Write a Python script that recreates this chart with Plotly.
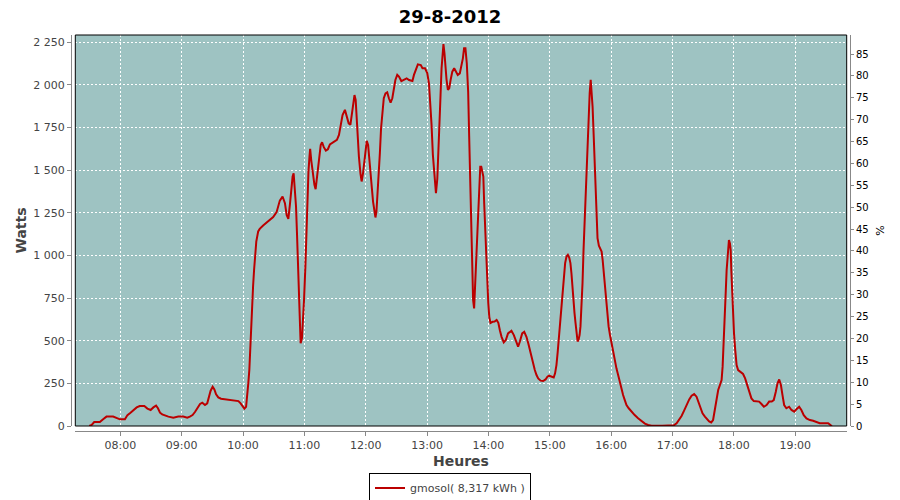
import plotly.graph_objects as go

date = "2012-08-29"
title = "29-8-2012"
series_name = "gmosol( 8,317 kWh )"

heures = [
    "07:29:40", "07:32:00", "07:34:30", "07:40:00", "07:43:30", "07:46:30", "07:53:00", "07:56:30",
    "07:59:40", "08:04:30", "08:07:00", "08:10:00", "08:12:40", "08:16:00", "08:19:00", "08:23:30",
    "08:26:30", "08:29:40", "08:32:20", "08:35:00", "08:36:50", "08:38:50", "08:41:00", "08:43:40",
    "08:47:00", "08:51:50", "08:56:40", "09:01:30", "09:05:30", "09:08:00", "09:10:40", "09:13:00",
    "09:15:40", "09:18:00", "09:20:10", "09:22:50", "09:25:00", "09:26:40", "09:28:20", "09:30:20",
    "09:32:00", "09:33:40", "09:35:50", "09:38:30", "09:42:30", "09:47:20", "09:52:10", "09:55:30",
    "09:57:40", "09:59:40", "10:01:20", "10:03:00", "10:04:10", "10:05:10", "10:06:10", "10:06:50",
    "10:07:30", "10:08:50", "10:09:50", "10:10:50", "10:11:50", "10:13:00", "10:14:50", "10:16:20",
    "10:19:40", "10:24:40", "10:29:30", "10:32:50", "10:36:00", "10:38:40", "10:41:00", "10:42:40",
    "10:44:20", "10:46:00", "10:47:10", "10:48:30", "10:49:30", "10:50:30", "10:51:50", "10:52:50",
    "10:53:50", "10:54:30", "10:55:20", "10:56:20", "10:57:40", "10:58:40", "10:59:40", "11:01:00",
    "11:02:00", "11:03:00", "11:04:00", "11:05:00", "11:05:40", "11:06:40", "11:08:00", "11:09:50",
    "11:11:00", "11:12:30", "11:13:50", "11:14:50", "11:16:00", "11:17:20", "11:19:00", "11:21:00",
    "11:23:00", "11:25:00", "11:28:30", "11:31:50", "11:33:50", "11:35:20", "11:37:20", "11:39:40",
    "11:41:40", "11:43:20", "11:45:00", "11:46:10", "11:47:30", "11:49:00", "11:50:10", "11:51:00",
    "11:52:00", "11:53:20", "11:54:50", "11:56:00", "11:57:20", "11:58:40", "12:00:00", "12:01:00",
    "12:02:20", "12:03:40", "12:04:40", "12:06:00", "12:07:10", "12:08:30", "12:09:30", "12:10:30",
    "12:11:30", "12:12:30", "12:13:50", "12:15:00", "12:16:20", "12:17:40", "12:19:20", "12:21:00",
    "12:22:40", "12:24:20", "12:26:00", "12:27:30", "12:29:00", "12:30:50", "12:32:30", "12:34:50",
    "12:37:20", "12:40:00", "12:42:20", "12:45:40", "12:47:10", "12:49:10", "12:51:00", "12:53:50",
    "12:55:30", "12:58:00", "13:00:10", "13:01:50", "13:03:10", "13:04:20", "13:05:40", "13:07:00",
    "13:08:40", "13:10:00", "13:11:10", "13:12:10", "13:13:10", "13:14:10", "13:15:00", "13:16:00",
    "13:17:00", "13:18:00", "13:19:00", "13:20:20", "13:21:40", "13:23:00", "13:24:40", "13:26:30",
    "13:28:00", "13:30:00", "13:32:00", "13:33:40", "13:35:00", "13:36:10", "13:37:30", "13:38:50",
    "13:40:10", "13:41:10", "13:42:10", "13:43:00", "13:44:00", "13:45:00", "13:46:00", "13:47:00",
    "13:48:00", "13:49:00", "13:50:00", "13:51:00", "13:52:00", "13:53:00", "13:54:00", "13:55:00",
    "13:55:50", "13:56:50", "13:57:50", "13:58:50", "13:59:50", "14:00:50", "14:02:00", "14:04:00",
    "14:06:00", "14:08:00", "14:09:40", "14:11:10", "14:12:50", "14:15:00", "14:17:00", "14:19:10",
    "14:22:30", "14:24:50", "14:27:20", "14:29:00", "14:30:40", "14:33:00", "14:35:00", "14:37:10",
    "14:39:00", "14:40:30", "14:42:00", "14:43:40", "14:45:20", "14:47:00", "14:48:40", "14:51:00",
    "14:53:30", "14:55:50", "14:57:40", "14:59:20", "15:01:40", "15:03:50", "15:05:10", "15:06:30",
    "15:07:40", "15:08:50", "15:10:05", "15:11:25", "15:12:40", "15:13:40", "15:15:00", "15:16:20",
    "15:17:40", "15:19:00", "15:20:10", "15:21:10", "15:22:10", "15:23:10", "15:24:10", "15:25:10",
    "15:26:10", "15:27:10", "15:28:10", "15:29:10", "15:30:00", "15:31:00", "15:32:00", "15:33:00",
    "15:34:00", "15:35:00", "15:36:00", "15:37:00", "15:38:00", "15:39:00", "15:40:00", "15:40:50",
    "15:41:50", "15:42:50", "15:43:50", "15:44:50", "15:45:50", "15:46:40", "15:48:00", "15:49:20",
    "15:50:40", "15:51:40", "15:52:30", "15:53:30", "15:54:30", "15:55:30", "15:56:30", "15:57:30",
    "15:58:50", "16:00:00", "16:01:20", "16:02:40", "16:03:30", "16:05:10", "16:06:50", "16:08:20",
    "16:10:00", "16:11:40", "16:13:20", "16:15:00", "16:17:10", "16:19:50", "16:23:00", "16:26:20",
    "16:29:40", "16:33:00", "16:36:10", "16:39:30", "16:50:00", "16:57:20", "17:01:20", "17:04:00",
    "17:06:30", "17:08:50", "17:11:20", "17:13:40", "17:16:20", "17:18:40", "17:21:10", "17:23:30",
    "17:25:20", "17:27:20", "17:29:20", "17:31:40", "17:34:00", "17:35:50", "17:37:50", "17:39:40",
    "17:41:20", "17:43:00", "17:44:40", "17:46:20", "17:48:00", "17:49:00", "17:49:50", "17:50:30",
    "17:51:20", "17:51:55", "17:52:55", "17:53:55", "17:55:10", "17:56:10", "17:56:55", "17:57:30",
    "17:58:25", "17:59:25", "18:00:10", "18:01:20", "18:02:40", "18:04:10", "18:06:30", "18:09:00",
    "18:11:00", "18:13:00", "18:15:00", "18:17:10", "18:19:30", "18:22:00", "18:24:40", "18:27:00",
    "18:29:20", "18:32:00", "18:34:30", "18:37:00", "18:39:00", "18:41:00", "18:42:40", "18:44:20",
    "18:46:00", "18:47:30", "18:49:10", "18:51:20", "18:54:00", "18:56:20", "18:59:00", "19:01:10",
    "19:03:50", "19:06:00", "19:08:20", "19:11:00", "19:14:20", "19:17:30", "19:20:50", "19:24:00",
    "19:29:00", "19:32:10", "19:34:50", "19:36:00",
]

watts = [
    0, 6, 23, 23, 41, 55, 55, 45,
    39, 39, 64, 78, 94, 109, 117, 117,
    102, 94, 109, 119, 104, 78, 68, 62,
    55, 49, 55, 55, 49, 55, 64, 82,
    104, 129, 137, 123, 133, 172, 207, 230,
    215, 186, 168, 160, 156, 152, 148, 146,
    133, 113, 102, 113, 172, 250, 328, 430,
    564, 701, 818, 916, 985, 1082, 1141, 1156,
    1176, 1203, 1225, 1254, 1322, 1346, 1307, 1238,
    1215, 1307, 1385, 1463, 1482, 1404, 1287, 1121,
    936, 750, 604, 486, 516, 604, 740, 936,
    1141, 1326, 1492, 1580, 1625, 1561, 1482, 1414,
    1389, 1463, 1531, 1590, 1648, 1664, 1635, 1615,
    1623, 1652, 1664, 1678, 1707, 1756, 1824, 1854,
    1818, 1775, 1766, 1824, 1902, 1941, 1912, 1814,
    1707, 1580, 1482, 1434, 1482, 1561, 1648, 1672,
    1648, 1570, 1502, 1395, 1316, 1258, 1223, 1258,
    1346, 1473, 1600, 1746, 1844, 1922, 1951, 1957,
    1922, 1897, 1922, 1971, 2029, 2059, 2049, 2023,
    2029, 2039, 2029, 2023, 2059, 2092, 2121, 2117,
    2098, 2098, 2070, 2010, 1900, 1770, 1590, 1463,
    1365, 1450, 1600, 1756, 1941, 2098, 2186, 2240,
    2186, 2098, 2033, 1971, 1980, 2029, 2078, 2098,
    2078, 2059, 2068, 2117, 2156, 2215, 2215, 2127,
    1961, 1697, 1404, 1121, 877, 740, 690, 818,
    955, 1131, 1287, 1414, 1521, 1521, 1492, 1463,
    1307, 1150, 985, 838, 721, 640, 604, 611,
    613, 622, 605, 562, 523, 490, 504, 543,
    559, 533, 488, 465, 494, 543, 552, 523,
    484, 445, 396, 357, 328, 299, 279, 266,
    264, 273, 289, 295, 289, 285, 309, 357,
    430, 510, 604, 701, 799, 877, 955, 994,
    1004, 988, 955, 896, 799, 721, 662, 604,
    535, 496, 506, 535, 584, 682, 838, 1033,
    1189, 1307, 1502, 1717, 1863, 1951, 2030, 1971,
    1873, 1717, 1521, 1336, 1189, 1102, 1057, 1043,
    1023, 975, 916, 838, 760, 691, 633, 584,
    535, 496, 447, 408, 387, 338, 299, 260,
    221, 182, 152, 123, 104, 84, 64, 45,
    27, 14, 6, 2, 2, 2, 4, 16,
    35, 59, 90, 123, 156, 178, 187, 172,
    143, 104, 74, 55, 39, 27, 21, 35,
    94, 162, 211, 240, 270, 348, 445, 543,
    640, 767, 914, 1021, 1090, 1070, 1030, 914,
    767, 621, 540, 445, 357, 328, 318, 305,
    279, 240, 201, 162, 146, 145, 143, 129,
    113, 123, 143, 143, 152, 201, 250, 273,
    240, 182, 123, 104, 113, 94, 84, 98,
    113, 94, 64, 45, 35, 31, 23, 16,
    16, 16, 4, 0,
]

x_range = ["2012-08-29 07:16:00", "2012-08-29 19:50:20"]
y_range = [0, 2293]
y2_range = [0, 89.35]

temps = [f"{date} {h}" for h in heures]

# The page body adds an 8px offset, so the figure is sized to fill the rest of the window
OFF = 8
W, H = 900 - OFF, 500 - OFF
L, R, T, B = 71 - OFF, 50, 35 - OFF, 69
pw = W - L - R
ph = H - T - B
xdom = [(75.3 - 71) / pw, (846.7 - 71) / pw]
ydom = [(431 - 426) / ph, 1.0]

FONT = "DejaVu Sans"
GRAY = "#444444"
AXIS = "#888888"

fig = go.Figure()
fig.add_trace(go.Scatter(
    x=temps, y=watts, mode="lines", name=series_name,
    line=dict(color="#BB0000", width=2),
))
fig.add_trace(go.Scatter(
    x=[], y=[], yaxis="y2", mode="lines", showlegend=False, hoverinfo="skip",
))

fig.update_layout(
    width=W, height=H,
    margin=dict(l=L, r=R, t=T, b=B, pad=0, autoexpand=False),
    paper_bgcolor="white",
    plot_bgcolor="#9EC3C2",
    separators=", ",
    font=dict(family=FONT, size=11, color=GRAY),
    title=dict(text="<b>" + title + "</b>", x=(450 - OFF) / W, xref="container", xanchor="center",
               y=1.0, yref="container", yanchor="top", pad=dict(t=2),
               font=dict(family=FONT, size=18, color="black")),
    xaxis=dict(
        type="date", domain=xdom, anchor="free", position=0, automargin=False,
        range=x_range, tick0="2012-08-29 08:00:00", dtick=3600000, tickformat="%H:%M",
        showline=True, linecolor=AXIS, linewidth=1,
        ticks="outside", ticklen=4, tickcolor=AXIS,
        showgrid=True, gridcolor="white", gridwidth=1, griddash="2px,2px",
        zeroline=False,
        tickfont=dict(family=FONT, size=11, color=GRAY),
        title=dict(text="<b>Heures</b>", standoff=4, font=dict(family=FONT, size=14, color=GRAY)),
    ),
    yaxis=dict(
        domain=ydom, anchor="free", position=0, automargin=False,
        range=y_range, dtick=250, tick0=0, separatethousands=True,
        showline=True, linecolor=AXIS, linewidth=1,
        ticks="outside", ticklen=4, tickcolor=AXIS,
        showgrid=True, gridcolor="white", gridwidth=1, griddash="2px,2px",
        zeroline=False,
        tickfont=dict(family=FONT, size=11, color=GRAY),
        title=dict(text="<b>Watts</b>", standoff=2, font=dict(family=FONT, size=14, color=GRAY)),
    ),
    yaxis2=dict(
        overlaying="y", side="right", anchor="free", position=1, automargin=False,
        range=y2_range, dtick=5, tick0=0,
        showline=True, linecolor=AXIS, linewidth=1,
        ticks="outside", ticklen=3, tickcolor=AXIS,
        showgrid=False, zeroline=False,
        tickfont=dict(family=FONT, size=10, color="black"),
        title=dict(text="%", standoff=8, font=dict(family=FONT, size=11, color="black")),
    ),
    legend=dict(
        orientation="h", x=(450 - OFF) / W, xref="container", xanchor="center",
        y=1 - (488 - OFF) / H, yref="container", yanchor="middle",
        bordercolor="black", borderwidth=1, bgcolor="white",
        font=dict(family=FONT, size=11, color=GRAY),
        itemwidth=30, tracegroupgap=0,
    ),
    shapes=[dict(type="rect", xref="x domain", yref="y domain", x0=0, x1=1, y0=0, y1=1,
                 line=dict(color="black", width=1), fillcolor="rgba(0,0,0,0)", layer="above")],
    showlegend=True,
)

fig.write_html("out.html")
